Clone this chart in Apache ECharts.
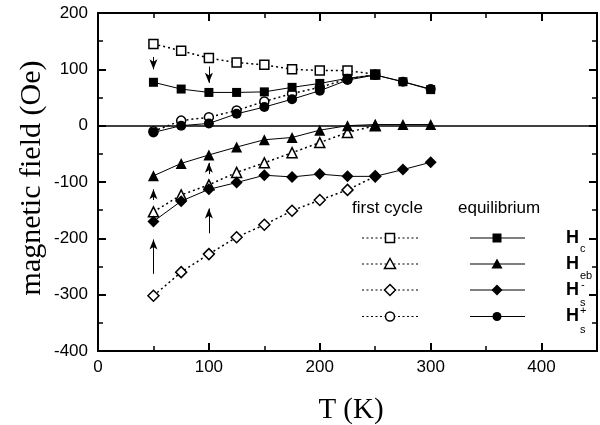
<!DOCTYPE html>
<html>
<head>
<meta charset="utf-8">
<script src="https://cdn.jsdelivr.net/npm/echarts@6/dist/echarts.min.js"></script>
<style>
html,body{margin:0;padding:0;background:#fff;}
#chart{width:600px;height:425px;}
</style>
</head>
<body>
<div id="chart"></div>
<script>
// ---- data ----
const temps = [50, 75, 100, 125, 150, 175, 200, 225, 250, 275, 300];
// equilibrium (filled symbols, solid lines)
const eqHc    = [77, 65, 59, 59, 60, 68, 75, 84, 90, 78, 64];
const eqHeb   = [-89, -67, -52, -38, -25, -21, -8, 0, 2, 2, 2];
const eqHsMinus = [-170, -134, -113, -101, -88, -91, -86, -90, -90, -78, -65];
const eqHsPlus  = [-12, 0, 4, 21, 33, 47, 62, 81, 90, 78, 65];
// first cycle (open symbols, dotted lines)
const fcHc    = [145, 133, 120, 112, 108, 100, 98, 98, 91];
const fcHeb   = [-153, -123, -105, -83, -66, -48, -30, -12, 0];
const fcHsMinus = [-302, -260, -228, -198, -176, -151, -132, -114, -90];
const fcHsPlus  = [-10, 9, 15, 27, 43, 57, 68, 83, 91];
// arrows [T, fromField, toField]
const arrows = [
  [50, 122, 100], [100, 105, 76],
  [50, -132, -113], [50, -263, -202],
  [100, -191, -147], [100, -86, -66]
];
const xTicks = [0, 100, 200, 300, 400];
const yTicks = [-400, -300, -200, -100, 0, 100, 200];

// ---- chart ----
const pair = (xs, ys) => ys.map((v, i) => [xs[i], v]);
const chart = echarts.init(document.getElementById('chart'), null, {renderer: 'canvas'});
const black = '#000';
const tickFont = 'Liberation Sans, Arial, sans-serif';

function axisCommon(showLabel, extra) {
  return Object.assign({
    type: 'value',
    axisLine: {show: true, onZero: false, lineStyle: {color: black, width: 2}},
    axisTick: {show: true, inside: true, length: 8, lineStyle: {color: black, width: 2}},
    minorTick: {show: true, splitNumber: 2, length: 5, lineStyle: {color: black, width: 1.5}},
    splitLine: {show: false},
    axisLabel: {show: showLabel, color: black, fontSize: 17, fontFamily: tickFont}
  }, extra);
}

function fcSeries(name, data, symbol, size) {
  return {
    name, type: 'line', data: pair(temps, data), symbol, symbolSize: size,
    showSymbol: true, z: 3,
    lineStyle: {color: black, width: 1.5, type: [2, 3]},
    itemStyle: {color: '#fff', borderColor: black, borderWidth: 1.5},
    emphasis: {disabled: true}, animation: false
  };
}
function eqSeries(name, data, symbol, size) {
  return {
    name, type: 'line', data: pair(temps, data), symbol, symbolSize: size,
    showSymbol: true, z: 4,
    lineStyle: {color: black, width: 1},
    itemStyle: {color: black, borderColor: black, borderWidth: 0},
    emphasis: {disabled: true}, animation: false
  };
}

const diamond = 'path://M0,-1L1,0L0,1L-1,0Z';

const series = [
  fcSeries('fcHc', fcHc, 'rect', 9),
  fcSeries('fcHeb', fcHeb, 'triangle', 10),
  fcSeries('fcHsMinus', fcHsMinus, diamond, 11),
  fcSeries('fcHsPlus', fcHsPlus, 'circle', 9),
  eqSeries('eqHc', eqHc, 'rect', 9),
  eqSeries('eqHeb', eqHeb, 'triangle', 11),
  eqSeries('eqHsMinus', eqHsMinus, diamond, 12),
  eqSeries('eqHsPlus', eqHsPlus, 'circle', 10),
  {
    name: 'zero', type: 'line', data: [], z: 2, animation: false,
    markLine: {
      silent: true, animation: false, symbol: ['none', 'none'],
      label: {show: false},
      lineStyle: {color: black, width: 1.6, type: 'solid'},
      data: [{yAxis: 0}]
    }
  },
  {
    name: 'arrows', type: 'line', data: [], z: 2, animation: false,
    markLine: {
      silent: true, animation: false, symbol: ['none', 'arrow'], symbolSize: [6, 10],
      label: {show: false},
      lineStyle: {color: black, width: 1, type: 'solid'},
      data: arrows.map(a => [{coord: [a[0], a[1]]}, {coord: [a[0], a[2]]}])
    }
  }
];

// ---- legend drawn as graphics ----
const rowsY = [238, 264, 290, 316.5];
const symbolShapes = ['rect', 'tri', 'diamond', 'circle'];
function symbolGraphic(kind, cx, cy, filled) {
  const style = {fill: filled ? black : '#fff', stroke: black, lineWidth: filled ? 0 : 1.5};
  if (kind === 'rect') return {type: 'rect', shape: {x: cx - 4.5, y: cy - 4.5, width: 9, height: 9}, style};
  if (kind === 'tri') return {type: 'polygon', shape: {points: [[cx, cy - 5.5], [cx + 5.5, cy + 4.5], [cx - 5.5, cy + 4.5]]}, style};
  if (kind === 'diamond') return {type: 'polygon', shape: {points: [[cx, cy - 5.5], [cx + 5.5, cy], [cx, cy + 5.5], [cx - 5.5, cy]]}, style};
  return {type: 'circle', shape: {cx, cy, r: 4.5}, style};
}
const graphics = [];
graphics.push({type: 'text', left: 352, top: 200, style: {text: 'first cycle', font: '17px Liberation Sans, Arial, sans-serif', fill: black}});
graphics.push({type: 'text', left: 458, top: 200, style: {text: 'equilibrium', font: '17px Liberation Sans, Arial, sans-serif', fill: black}});
rowsY.forEach((y, i) => {
  graphics.push({type: 'line', shape: {x1: 362, y1: y, x2: 418, y2: y}, style: {stroke: black, lineWidth: 1.2, lineDash: [2, 2.5]}});
  graphics.push(symbolGraphic(symbolShapes[i], 390, y, false));
  graphics.push({type: 'line', shape: {x1: 470, y1: y, x2: 525, y2: y}, style: {stroke: black, lineWidth: 1.2}});
  graphics.push(symbolGraphic(symbolShapes[i], 497, y, true));
  graphics.push({type: 'text', x: 566, y: y, style: {text: 'H', font: 'bold 18px Liberation Sans, Arial, sans-serif', fill: black, textVerticalAlign: 'middle'}});
});
const subs = [['c', 249], ['eb', 276], ['s', 302.5], ['s', 330]];
subs.forEach(s => graphics.push({type: 'text', x: 580, y: s[1], style: {text: s[0], font: '11px Liberation Sans, Arial, sans-serif', fill: black, textVerticalAlign: 'middle'}}));
graphics.push({type: 'text', x: 581, y: 285, style: {text: '-', font: '11px Liberation Sans, Arial, sans-serif', fill: black, textVerticalAlign: 'middle'}});
graphics.push({type: 'text', x: 580, y: 311, style: {text: '+', font: '11px Liberation Sans, Arial, sans-serif', fill: black, textVerticalAlign: 'middle'}});
// axis titles
graphics.push({type: 'text', x: 32, y: 178, rotation: Math.PI / 2,
  style: {text: 'magnetic field (Oe)', font: '30px Liberation Serif, Times New Roman, serif', fill: black, textAlign: 'center', textVerticalAlign: 'middle'}});
graphics.push({type: 'text', x: 351, y: 410,
  style: {text: 'T (K)', font: '29px Liberation Serif, Times New Roman, serif', fill: black, textAlign: 'center', textVerticalAlign: 'middle'}});

chart.setOption({
  animation: false,
  backgroundColor: '#fff',
  grid: {left: 98, top: 13, width: 507, height: 338, containLabel: false},
  xAxis: [
    axisCommon(true, {min: 0, max: 450, interval: 100, position: 'bottom',
      axisLabel: {show: true, color: black, fontSize: 17, fontFamily: tickFont, margin: 8,
        formatter: v => xTicks.indexOf(v) >= 0 ? String(v) : ''}}),
    axisCommon(false, {min: 0, max: 450, interval: 100, position: 'top'})
  ],
  yAxis: [
    axisCommon(true, {min: -400, max: 200, interval: 100, position: 'left',
      axisLabel: {show: true, color: black, fontSize: 17, fontFamily: tickFont, margin: 10,
        formatter: v => yTicks.indexOf(v) >= 0 ? String(v) : ''}}),
    axisCommon(false, {min: -400, max: 200, interval: 100, position: 'right'})
  ],
  series: series,
  graphic: graphics
});
</script>
</body>
</html>
